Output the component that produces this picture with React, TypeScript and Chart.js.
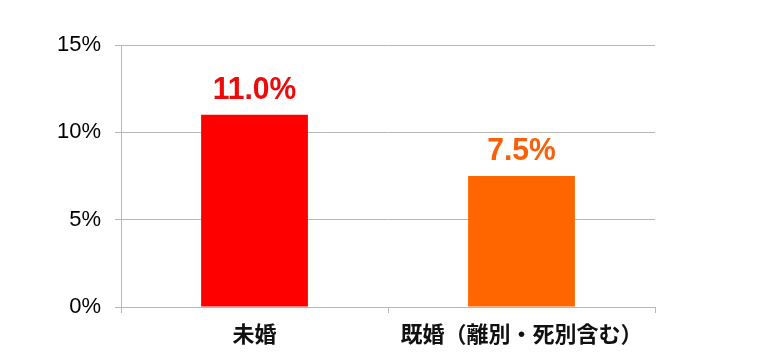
import React, { useEffect, useRef } from "react";
import { Chart, registerables } from "chart.js";

Chart.register(...registerables);

const categories = ["未婚", "既婚（離別・死別含む）"];
const values = [11.0, 7.5];
const valueLabels = ["11.0%", "7.5%"];
const barColors = ["#ff0000", "#ff6600"];
const labelColors = ["#ee0a0a", "#f8600a"];
const yTicks = [0, 5, 10, 15];

const valueLabelPlugin = {
  id: "valueLabels",
  afterDatasetsDraw(chart: any) {
    const ctx = chart.ctx;
    const meta = chart.getDatasetMeta(0);
    meta.data.forEach((bar: any, i: number) => {
      ctx.save();
      ctx.translate(bar.x, bar.y - 16);
      ctx.scale(0.94, 1);
      ctx.font = "bold 32px 'Liberation Sans', Arial, sans-serif";
      ctx.textAlign = "center";
      ctx.textBaseline = "alphabetic";
      ctx.fillStyle = labelColors[i];
      ctx.fillText(valueLabels[i], 0, 0);
      ctx.restore();
    });
  },
};

export default function App() {
  const ref = useRef<HTMLCanvasElement | null>(null);
  useEffect(() => {
    if (!ref.current) return;
    const chart = new Chart(ref.current, {
      type: "bar",
      data: {
        labels: categories,
        datasets: [
          {
            data: values,
            backgroundColor: barColors,
            borderWidth: 0,
            barPercentage: 0.4,
            categoryPercentage: 1.0,
          },
        ],
      },
      options: {
        responsive: false,
        animation: false,
        layout: { padding: { top: 45, left: 0, right: 121, bottom: 0 } },
        plugins: { legend: { display: false }, tooltip: { enabled: false } },
        scales: {
          x: {
            offset: true,
            grid: {
              offset: true,
              drawOnChartArea: false,
              drawTicks: true,
              tickLength: 6,
              color: "#b8b8b8",
            },
            border: { display: true, color: "#b8b8b8" },
            ticks: {
              color: "#111",
              padding: 7,
              maxRotation: 0,
              autoSkip: false,
              font: { family: "'Noto Sans CJK JP', sans-serif", size: 22, weight: "bold" },
            },
            afterFit(scale: any) {
              scale.height = 53;
            },
          },
          y: {
            min: 0,
            max: 15,
            afterBuildTicks(scale: any) {
              scale.ticks = yTicks.map((v) => ({ value: v }));
            },
            grid: { color: "#b8b8b8", tickLength: 6, drawTicks: true },
            border: { display: true, color: "#b8b8b8" },
            ticks: {
              color: "#000",
              padding: 14,
              font: { family: "'Liberation Sans', Arial, sans-serif", size: 22 },
              callback: (v: any) => v + "%",
            },
            afterFit(scale: any) {
              scale.width = 121;
            },
          },
        },
      },
      plugins: [valueLabelPlugin],
    });
    return () => chart.destroy();
  }, []);
  return (
    <div style={{ position: "fixed", left: 0, top: 0, width: 776, height: 360, background: "#fff" }}>
      <canvas ref={ref} width={776} height={360} style={{ width: 776, height: 360 }} />
    </div>
  );
}
